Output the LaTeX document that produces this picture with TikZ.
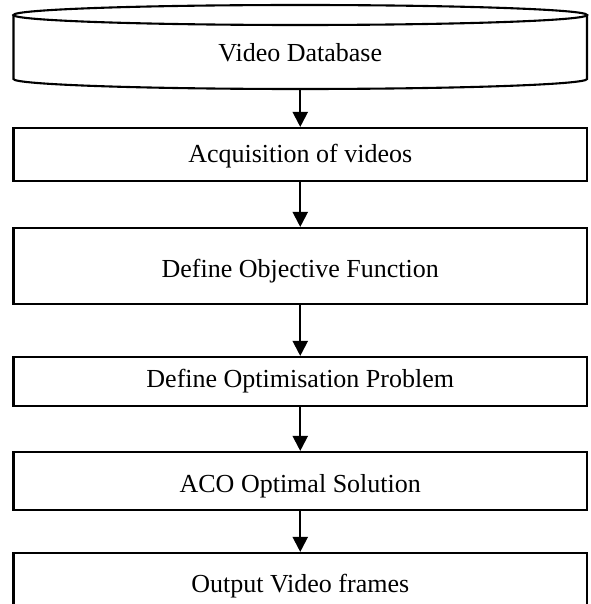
\documentclass[tikz,border=0pt]{standalone}
\usepackage{fontspec}
\setmainfont{Liberation Serif}
\usetikzlibrary{arrows.meta}

\tikzset{
  outline/.style={line width=2.1pt, draw=black},
  stepbox/.style={outline, rectangle, inner sep=0pt, minimum width=573.5pt},
  flow/.style={line width=2.1pt, -{Triangle[length=15pt,width=15pt]}},
  label/.style={anchor=base, inner sep=0pt, font=\fontsize{26}{30}\selectfont}
}

\begin{document}
\begin{tikzpicture}[x=1pt, y=-1pt]
  \useasboundingbox (0,0) rectangle (590,604);
  \clip (0,0) rectangle (590,604);
  \fill[white] (0,0) rectangle (590,604);

  % database drum
  \draw[outline] (13.5,15) -- (13.5,79)
    arc[start angle=180, end angle=360, x radius=286.75pt, y radius=10pt]
    -- (587,15);
  \draw[outline] (300.25,15) ellipse [x radius=286.75pt, y radius=10pt];
  \coordinate (db) at (300.25,89);
  \node[label] (dbtext) at (300.25,62) {Video Database};

  % process steps
  \node[stepbox, minimum height=53pt] (acq) at (300.25,154.5) {};
  \node[label] at (300.25,163) {Acquisition of videos};

  \node[stepbox, minimum height=76pt] (obj) at (300.25,266) {};
  \node[label] at (300.25,277) {Define Objective Function};

  \node[stepbox, minimum height=49pt] (opt) at (300.25,381.5) {};
  \node[label] at (300.25,387) {Define Optimisation Problem};

  \node[stepbox, minimum height=58pt] (aco) at (300.25,481) {};
  \node[label] at (300.25,492) {ACO Optimal Solution};

  \node[stepbox, minimum height=90pt] (out) at (300.25,598) {};
  \node[label] at (300.25,592) {Output Video frames};

  % connectors
  \draw[flow] (db) -- (acq.north);
  \draw[flow] (acq.south) -- (obj.north);
  \draw[flow] (obj.south) -- (opt.north);
  \draw[flow] (opt.south) -- (aco.north);
  \draw[flow] (aco.south) -- (out.north);
\end{tikzpicture}
\end{document}
